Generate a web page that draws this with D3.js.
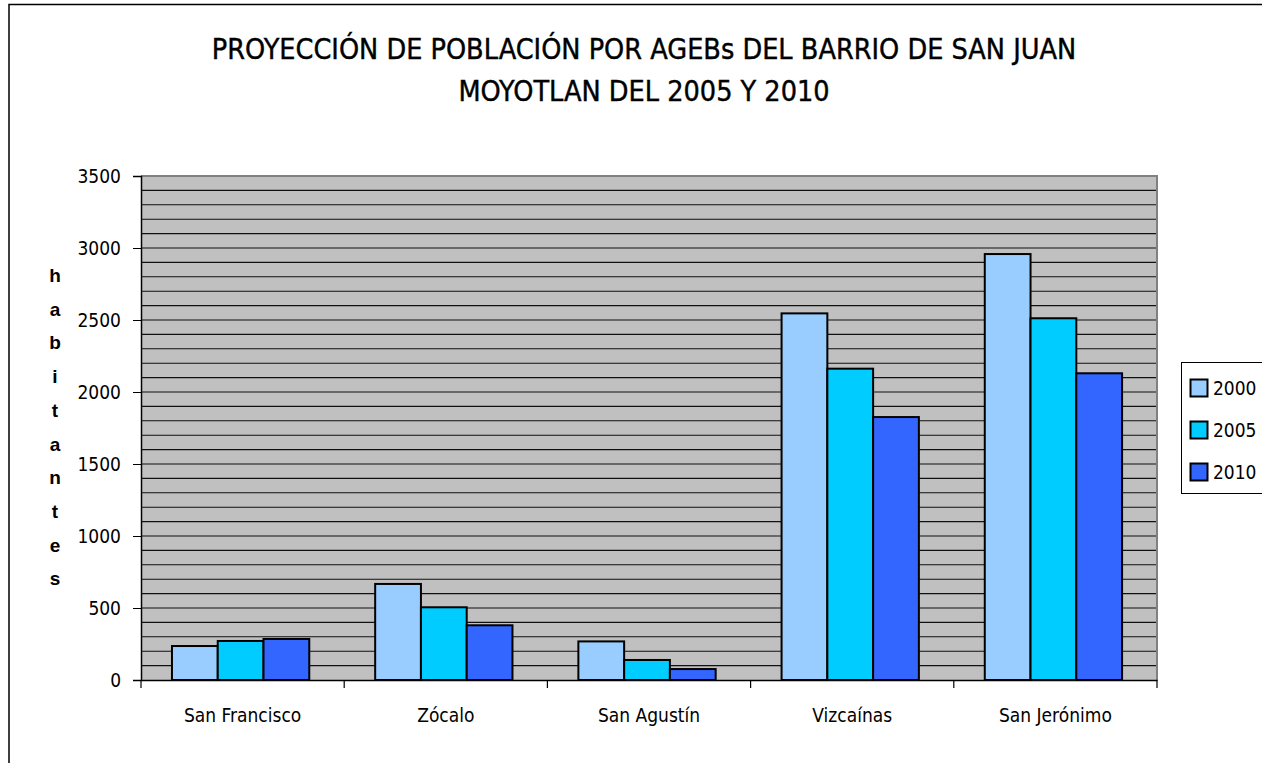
<!DOCTYPE html>
<html>
<head>
<meta charset="utf-8">
<script src="https://cdn.jsdelivr.net/npm/d3@7"></script>
<style>
  html, body { margin: 0; padding: 0; background: #fff; }
  svg { display: block; }
</style>
</head>
<body>
<svg id="chart" width="1262" height="763"></svg>
<script>
// Population by AGEB, Barrio de San Juan Moyotlan
const categories = ["San Francisco", "Zócalo", "San Agustín", "Vizcaínas", "San Jerónimo"];
const years = ["2000", "2005", "2010"];
const values2000 = [236, 667, 268, 2546, 2958];
const values2005 = [271, 505, 139, 2162, 2512];
const values2010 = [285, 380, 76, 1826, 2130];
const yTicks = [0, 500, 1000, 1500, 2000, 2500, 3000, 3500];
const titleLines = ["PROYECCIÓN DE POBLACIÓN POR AGEBs DEL BARRIO DE SAN JUAN", "MOYOTLAN DEL 2005 Y 2010"];
const yTitle = "habitantes";
const colors = ["#99CCFF", "#00CCFF", "#3366FF"];

const series = [values2000, values2005, values2010];
const font = "'DejaVu Sans Condensed', 'DejaVu Sans', sans-serif";

const svg = d3.select("#chart");

// chart frame
svg.append("rect")
  .attr("x", 9).attr("y", 4.5)
  .attr("width", 1300).attr("height", 800)
  .attr("fill", "#fff").attr("stroke", "#000").attr("stroke-width", 1.5);

const plot = { left: 141, right: 1157, top: 176, bottom: 680 };

const x0 = d3.scaleBand().domain(categories).range([plot.left, plot.right]).padding(0);
const x1 = d3.scaleBand().domain(years).range([0, x0.bandwidth()]).paddingInner(0).paddingOuter(0.72).align(0.47);
const y = d3.scaleLinear().domain([0, 3500]).range([plot.bottom, plot.top]);

// plot background
svg.append("rect")
  .attr("x", plot.left).attr("y", plot.top)
  .attr("width", plot.right - plot.left).attr("height", plot.bottom - plot.top)
  .attr("fill", "#C0C0C0");

// horizontal gridlines every 100
svg.append("g")
  .selectAll("line")
  .data(d3.range(100, 3500, 100))
  .join("line")
  .attr("x1", plot.left).attr("x2", plot.right)
  .attr("y1", d => y(d)).attr("y2", d => y(d))
  .attr("stroke", "#111").attr("stroke-width", 1.1);

// plot border (top and right)
svg.append("path")
  .attr("d", `M${plot.left},${plot.top}H${plot.right}V${plot.bottom}`)
  .attr("fill", "none").attr("stroke", "#808080").attr("stroke-width", 2);

// bars
const groups = svg.append("g").selectAll("g")
  .data(categories)
  .join("g")
  .attr("transform", d => `translate(${x0(d)},0)`);

groups.selectAll("rect")
  .data((d, i) => years.map((yr, k) => ({ yr, k, v: series[k][i] })))
  .join("rect")
  .attr("x", d => x1(d.yr))
  .attr("y", d => y(d.v))
  .attr("width", x1.bandwidth())
  .attr("height", d => y(0) - y(d.v))
  .attr("fill", d => colors[d.k])
  .attr("stroke", "#000")
  .attr("stroke-width", 2);

// y axis
const yAxis = svg.append("g")
  .attr("transform", `translate(${plot.left},0)`)
  .call(d3.axisLeft(y).tickValues(yTicks).tickSize(8).tickPadding(12).tickFormat(d3.format("d")));
yAxis.select(".domain").attr("stroke", "#000").attr("stroke-width", 1.5);
yAxis.selectAll(".tick line").attr("stroke", "#000");
yAxis.selectAll("text")
  .attr("font-family", font).attr("font-size", 19).attr("fill", "#000");

// x axis
const xAxis = svg.append("g")
  .attr("transform", `translate(0,${plot.bottom})`)
  .call(d3.axisBottom(x0).tickSize(0).tickPadding(29));
xAxis.select(".domain").attr("stroke", "#000").attr("stroke-width", 1.5);
xAxis.selectAll("text")
  .attr("font-family", font).attr("font-size", 19).attr("fill", "#000");
// category separator ticks
svg.append("g").selectAll("line")
  .data(d3.range(categories.length + 1))
  .join("line")
  .attr("x1", i => plot.left + i * x0.step())
  .attr("x2", i => plot.left + i * x0.step())
  .attr("y1", plot.bottom).attr("y2", plot.bottom + 8)
  .attr("stroke", "#000").attr("stroke-width", 1.2);

// title
svg.append("g").selectAll("text")
  .data(titleLines)
  .join("text")
  .attr("x", 644)
  .attr("y", (d, i) => 59 + i * 42)
  .attr("text-anchor", "middle")
  .attr("font-family", font)
  .attr("font-size", 28.5)
  .attr("fill", "#000")
  .attr("stroke", "#000")
  .attr("stroke-width", 0.4)
  .text(d => d);

// vertical stacked y-axis title
svg.append("g").selectAll("text")
  .data(yTitle.split(""))
  .join("text")
  .attr("x", 55)
  .attr("y", (d, i) => 282 + i * 33.7)
  .attr("text-anchor", "middle")
  .attr("font-family", "'Liberation Sans', Arial, sans-serif")
  .attr("font-weight", "bold")
  .attr("font-size", 19)
  .attr("fill", "#000")
  .text(d => d);

// legend
const legend = svg.append("g");
legend.append("rect")
  .attr("x", 1181.5).attr("y", 362.5)
  .attr("width", 100).attr("height", 131)
  .attr("fill", "#fff").attr("stroke", "#000").attr("stroke-width", 1);
const items = legend.selectAll("g.item")
  .data(years)
  .join("g")
  .attr("class", "item")
  .attr("transform", (d, i) => `translate(0,${388 + i * 42})`);
items.append("rect")
  .attr("x", 1190.5).attr("y", -8.5)
  .attr("width", 17).attr("height", 17)
  .attr("fill", (d, i) => colors[i])
  .attr("stroke", "#000").attr("stroke-width", 2);
items.append("text")
  .attr("x", 1213).attr("y", 7)
  .attr("font-family", font).attr("font-size", 19)
  .attr("fill", "#000")
  .text(d => d);
</script>
</body>
</html>
